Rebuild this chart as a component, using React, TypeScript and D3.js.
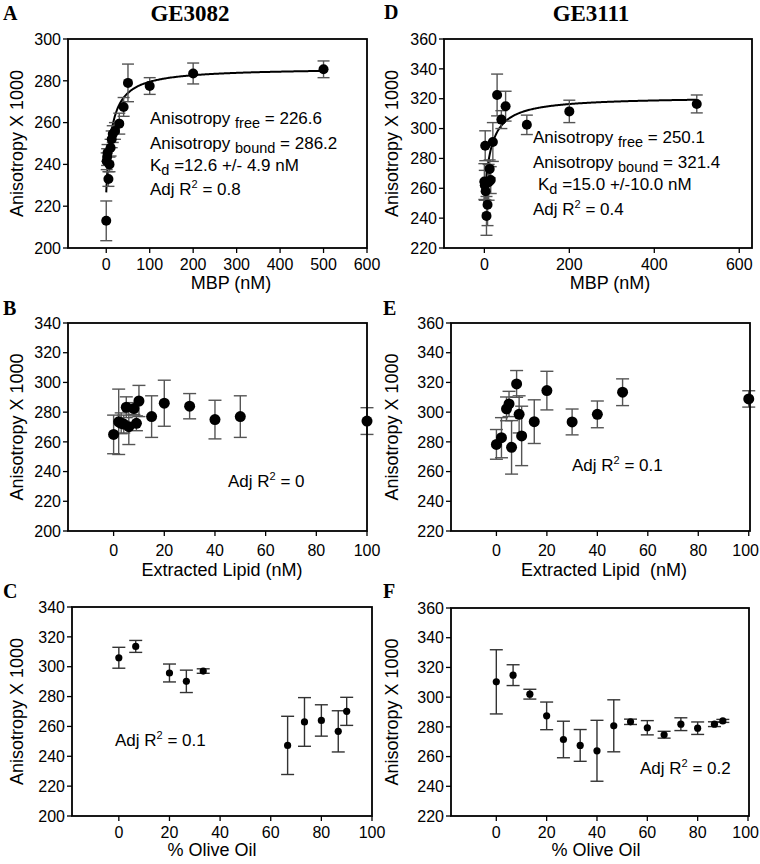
import React from "react";
import * as d3 from "d3";

// ---------- Data ----------
// Panel A: GE3082 vs MBP
const A_X = [0, 1, 2, 3, 5, 7.5, 10, 12.5, 15, 20, 30, 40, 50, 100, 200, 500];
const A_Y = [213, 241.5, 243.5, 245.5, 233, 240, 248, 252, 254.5, 256, 259.5, 267.5, 279, 277.5, 283.5, 285.5];
const A_ERR = [9.5, 4, 4, 4, 3.5, 3.5, 4, 4, 4, 4, 5, 4.5, 9, 4, 5, 4];
const A_FIT = { free: 226.6, bound: 286.2, kd: 12.6 };

// Panel D: GE3111 vs MBP
const D_X = [0, 1, 2, 3, 5, 7.5, 10, 12.5, 15, 20, 30, 40, 50, 100, 200, 500];
const D_Y = [264.5, 262, 288.5, 258, 241.5, 249, 264, 273, 265.5, 291, 322.5, 306, 315, 302.5, 311.5, 316.5];
const D_ERR = [12, 10, 10, 6, 13, 14, 12, 6, 9, 13, 14, 6, 10, 6.5, 7.5, 6];
const D_FIT = { free: 250.1, bound: 321.4, kd: 15.0 };

// Panel B: GE3082 vs extracted lipid
const B_X = [0, 2, 3, 4, 5, 6, 8, 9, 10, 15, 20, 30, 40, 50, 100];
const B_Y = [265, 273.5, 272.5, 272, 283.3, 270.2, 282.4, 272.5, 287.5, 277, 286, 284, 275, 277, 274];
const B_ERR = [13, 22, 7, 6, 7, 12, 4, 5, 10.5, 14, 15.5, 8.5, 13, 14, 9];

// Panel E: GE3111 vs extracted lipid
const E_X = [0, 2, 4, 5, 6, 8, 9, 10, 15, 20, 30, 40, 50, 100];
const E_Y = [278.3, 282.8, 302.2, 305.5, 276.3, 319, 298.5, 284, 293.6, 314.5, 293.4, 298.5, 313.4, 308.9];
const E_ERR = [10, 13.5, 8, 8.5, 18, 9, 12.5, 20, 14.7, 13, 8.7, 9, 9, 5.5];

// Panel C: GE3082 vs % olive oil
const C_X = [0, 6.67, 20, 26.67, 33.33, 66.67, 73.33, 80, 86.67, 90];
const C_Y = [306, 313.6, 295.8, 290.2, 297.1, 247.3, 263, 264, 256.7, 270.1];
const C_ERR = [7, 4, 6, 7.5, 1.5, 19.5, 16.3, 10.5, 13.8, 9.4];

// Panel F: GE3111 vs % olive oil
const F_X = [0, 6.67, 13.33, 20, 26.67, 33.33, 40, 46.67, 53.33, 60, 66.67, 73.33, 80, 86.67, 90];
const F_Y = [310.3, 314.8, 302, 287.4, 271.5, 267.5, 263.9, 280.7, 283.4, 279.4, 274.7, 281.8, 279.1, 281.8, 284];
const F_ERR = [21.6, 7, 3.3, 9.3, 12.3, 10.7, 20.5, 17.5, 1.8, 4.8, 2.3, 4.3, 4.2, 1.6, 1];

// Tick labels
const MBP_TICKS_A = [0, 100, 200, 300, 400, 500, 600];
const MBP_TICKS_D = [0, 200, 400, 600];
const PCT_TICKS = [0, 20, 40, 60, 80, 100];
const Y_TICKS_200_300 = [200, 220, 240, 260, 280, 300];
const Y_TICKS_200_340 = [200, 220, 240, 260, 280, 300, 320, 340];
const Y_TICKS_220_360 = [220, 240, 260, 280, 300, 320, 340, 360];

const SANS = "'Liberation Sans', Arial, Helvetica, sans-serif";
const SERIF = "'Liberation Serif', 'Times New Roman', serif";
const TICK_FS = 16;

type Fit = { free: number; bound: number; kd: number };

type PanelProps = {
  box: [number, number, number, number];
  xDomain: [number, number];
  yDomain: [number, number];
  xTicks: number[];
  yTicks: number[];
  xs: number[];
  ys: number[];
  errs: number[];
  r: number;
  cap: number;
  errColor: string;
  fit?: Fit;
  xLabel: string;
  xLabelX: number;
  tickBase: number;
  labelBase: number;
  yLabelX: number;
  children?: React.ReactNode;
};

function Panel(p: PanelProps) {
  const [l, t, rr, b] = p.box;
  const x = d3.scaleLinear().domain(p.xDomain).range([l, rr]);
  const y = d3.scaleLinear().domain(p.yDomain).range([b, t]);
  let fitPath: string | null = null;
  if (p.fit) {
    const f = p.fit;
    const xsFit = d3.range(0, 20, 0.2).concat(d3.range(20, 500.01, 2));
    fitPath = d3
      .line<number>()
      .x((v) => x(v))
      .y((v) => y(f.free + ((f.bound - f.free) * v) / (f.kd + v)))(xsFit);
  }
  return (
    <g>
      {p.xTicks.map((v) => {
        const label = String(v);
        const halfW = (label.length * 0.556 * TICK_FS) / 2;
        const tx = Math.min(x(v), 759 - halfW);
        return (
          <g key={"xt" + v}>
            <line x1={x(v)} x2={x(v)} y1={b} y2={b + 5} stroke="#000" strokeWidth={1.3} />
            <text x={tx} y={p.tickBase} textAnchor="middle" fontSize={TICK_FS} fontFamily={SANS}>
              {label}
            </text>
          </g>
        );
      })}
      {p.yTicks.map((v) => (
        <g key={"yt" + v}>
          <line x1={l - 5} x2={l} y1={y(v)} y2={y(v)} stroke="#000" strokeWidth={1.3} />
          <text x={l - 7} y={y(v) + 5.7} textAnchor="end" fontSize={TICK_FS} fontFamily={SANS}>
            {v}
          </text>
        </g>
      ))}
      {fitPath && <path d={fitPath} fill="none" stroke="#000" strokeWidth={2} />}
      {p.xs.map((xv, i) => {
        const cx = x(xv);
        const y1 = y(p.ys[i] + p.errs[i]);
        const y2 = y(p.ys[i] - p.errs[i]);
        return (
          <g key={"e" + i} stroke={p.errColor} strokeWidth={1.4}>
            <line x1={cx} x2={cx} y1={y1} y2={y2} />
            <line x1={cx - p.cap} x2={cx + p.cap} y1={y1} y2={y1} />
            <line x1={cx - p.cap} x2={cx + p.cap} y1={y2} y2={y2} />
          </g>
        );
      })}
      {p.xs.map((xv, i) => (
        <circle key={"c" + i} cx={x(xv)} cy={y(p.ys[i])} r={p.r} fill="#000" />
      ))}
      <rect x={l} y={t} width={rr - l} height={b - t} fill="none" stroke="#000" strokeWidth={1.8} />
      <text x={p.xLabelX} y={p.labelBase} textAnchor="middle" fontSize={18} fontFamily={SANS}>
        {p.xLabel}
      </text>
      <text
        transform={`translate(${p.yLabelX},${(t + b) / 2}) rotate(-90)`}
        textAnchor="middle"
        fontSize={18}
        fontFamily={SANS}
      >
        Anisotropy X 1000
      </text>
      {p.children}
    </g>
  );
}

function AdjR({ x, y, v }: { x: number; y: number; v: string }) {
  return (
    <text x={x} y={y} fontSize={17} fontFamily={SANS}>
      Adj R
      <tspan fontSize={11} dy={-7}>
        2
      </tspan>
      <tspan dy={7}>{" = " + v}</tspan>
    </text>
  );
}

function Sub({ x, y, pre, sub, post }: { x: number; y: number; pre: string; sub: string; post: string }) {
  return (
    <text x={x} y={y} fontSize={17} fontFamily={SANS} xmlSpace="preserve">
      {pre}
      <tspan fontSize={14.5} dy={4}>
        {sub}
      </tspan>
      <tspan dy={-4}>{post}</tspan>
    </text>
  );
}

export default function App() {
  return (
    <svg
      width={760}
      height={864}
      style={{ position: "absolute", left: 0, top: 0, background: "#fff" }}
    >
      <rect x={0} y={0} width={760} height={864} fill="#fff" />
      {/* headings */}
      <text x={190} y={21} textAnchor="middle" fontSize={23} fontWeight="bold" fontFamily={SERIF}>
        GE3082
      </text>
      <text x={591} y={21} textAnchor="middle" fontSize={23} fontWeight="bold" fontFamily={SERIF}>
        GE3111
      </text>
      {[
        ["A", 3, 20],
        ["D", 384, 19],
        ["B", 3, 315],
        ["E", 383, 315],
        ["C", 3, 598],
        ["F", 383, 598],
      ].map(([s, xx, yy]) => (
        <text key={s as string} x={xx as number} y={yy as number} fontSize={20} fontWeight="bold" fontFamily={SERIF}>
          {s}
        </text>
      ))}

      {/* A */}
      <Panel
        box={[68, 39, 367, 248]}
        xDomain={[-88, 600]}
        yDomain={[200, 300]}
        xTicks={MBP_TICKS_A}
        yTicks={Y_TICKS_200_300}
        xs={A_X}
        ys={A_Y}
        errs={A_ERR}
        r={5}
        cap={6}
        errColor="#555"
        fit={A_FIT}
        xLabel="MBP (nM)"
        xLabelX={231}
        tickBase={270}
        labelBase={288.5}
        yLabelX={23}
      >
        <Sub x={150} y={124} pre="Anisotropy " sub="free" post=" = 226.6" />
        <Sub x={150} y={149} pre="Anisotropy " sub="bound" post=" = 286.2" />
        <Sub x={150} y={171} pre="K" sub="d" post=" =12.6 +/- 4.9 nM" />
        <AdjR x={150} y={195} v="0.8" />
      </Panel>

      {/* D */}
      <Panel
        box={[444, 39, 752, 248]}
        xDomain={[-95, 630]}
        yDomain={[220, 360]}
        xTicks={MBP_TICKS_D}
        yTicks={Y_TICKS_220_360}
        xs={D_X}
        ys={D_Y}
        errs={D_ERR}
        r={5}
        cap={6}
        errColor="#555"
        fit={D_FIT}
        xLabel="MBP (nM)"
        xLabelX={610}
        tickBase={270}
        labelBase={288.5}
        yLabelX={398}
      >
        <Sub x={533} y={142.5} pre="Anisotropy " sub="free" post=" = 250.1" />
        <Sub x={533} y={167.5} pre="Anisotropy " sub="bound" post=" = 321.4" />
        <Sub x={538} y={190} pre="K" sub="d" post=" =15.0 +/-10.0 nM" />
        <AdjR x={533} y={215} v="0.4" />
      </Panel>

      {/* B */}
      <Panel
        box={[68, 323, 367, 531]}
        xDomain={[-18, 100]}
        yDomain={[200, 340]}
        xTicks={PCT_TICKS}
        yTicks={Y_TICKS_200_340}
        xs={B_X}
        ys={B_Y}
        errs={B_ERR}
        r={5.5}
        cap={6.5}
        errColor="#555"
        xLabel="Extracted Lipid (nM)"
        xLabelX={222}
        tickBase={555.5}
        labelBase={575.5}
        yLabelX={23}
      >
        <AdjR x={228} y={486.5} v="0" />
      </Panel>

      {/* E */}
      <Panel
        box={[451, 323, 750, 531]}
        xDomain={[-18, 100.5]}
        yDomain={[220, 360]}
        xTicks={PCT_TICKS}
        yTicks={Y_TICKS_220_360}
        xs={E_X}
        ys={E_Y}
        errs={E_ERR}
        r={5.5}
        cap={6.5}
        errColor="#555"
        xLabel={"Extracted Lipid\u00a0\u00a0(nM)"}
        xLabelX={604}
        tickBase={555.5}
        labelBase={576}
        yLabelX={398}
      >
        <AdjR x={572} y={471} v="0.1" />
      </Panel>

      {/* C */}
      <Panel
        box={[72, 607, 372, 816]}
        xDomain={[-18.5, 100]}
        yDomain={[200, 340]}
        xTicks={PCT_TICKS}
        yTicks={Y_TICKS_200_340}
        xs={C_X}
        ys={C_Y}
        errs={C_ERR}
        r={3.6}
        cap={6.5}
        errColor="#333"
        xLabel="% Olive Oil"
        xLabelX={212}
        tickBase={837.5}
        labelBase={856}
        yLabelX={23}
      >
        <AdjR x={115} y={746} v="0.1" />
      </Panel>

      {/* F */}
      <Panel
        box={[451, 608, 749, 816]}
        xDomain={[-18, 100.4]}
        yDomain={[220, 360]}
        xTicks={PCT_TICKS}
        yTicks={Y_TICKS_220_360}
        xs={F_X}
        ys={F_Y}
        errs={F_ERR}
        r={3.6}
        cap={6.5}
        errColor="#333"
        xLabel="% Olive Oil"
        xLabelX={596}
        tickBase={837.5}
        labelBase={856}
        yLabelX={398}
      >
        <AdjR x={640} y={774} v="0.2" />
      </Panel>
    </svg>
  );
}
